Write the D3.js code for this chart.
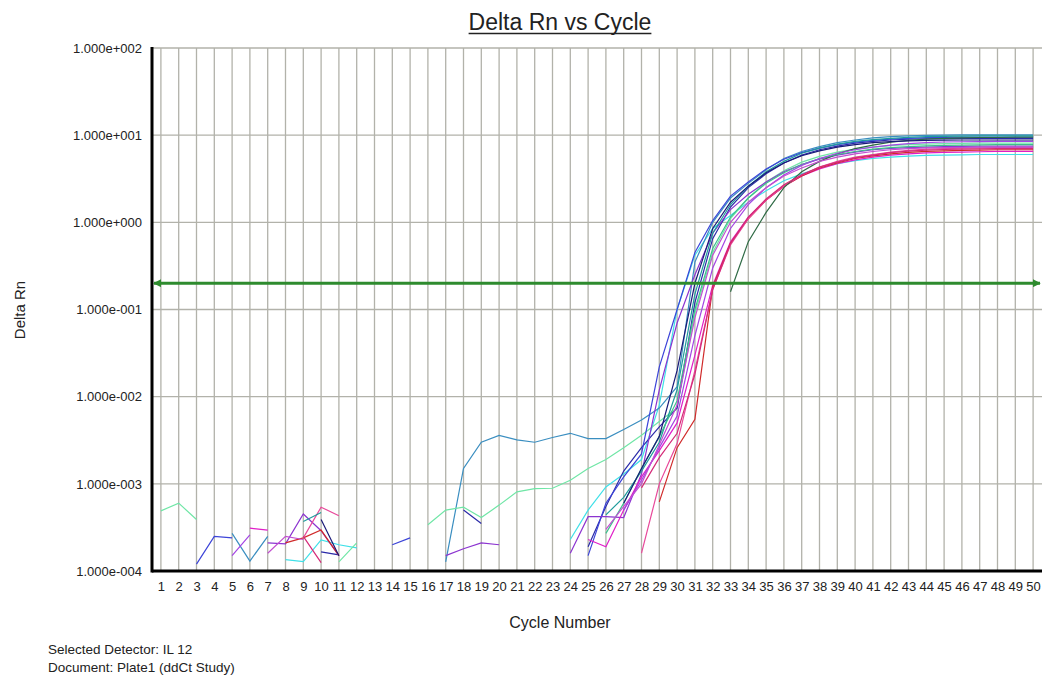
<!DOCTYPE html>
<html lang="en">
<head>
<meta charset="UTF-8">
<title>Delta Rn vs Cycle</title>
<script src="https://d3js.org/d3.v7.min.js"></script>
<style>
  body { margin: 0; background: #fff; }
  text { font-family: Arial, "Liberation Sans", sans-serif; fill: #222; }
</style>
</head>
<body>
<svg width="1042" height="675"></svg>
<script>
// cycle numbers and log-axis ticks
var cycles = d3.range(1, 51);
var yTicks = [1e-4, 1e-3, 1e-2, 1e-1, 1e0, 1e1, 1e2];
var threshold = 0.2;

// delta Rn per well, cycles 1..50 (null = not plotted)
var wellCyan = [
  null, null, null, null, null, null, null, 1.35e-4, 1.28e-4, 2.27e-4,
  2.0e-4, 1.84e-4, null, null, null, null, null, null, null, null,
  null, null, null, 2.3e-4, 5.0e-4, 9.2e-4, 1.3e-3, 1.9e-3, 8.0e-3, 0.1,
  0.42, 0.85, 1.2, 1.7, 2.3, 3.0, 3.6, 4.2, 4.7, 5.1,
  5.4, 5.6, 5.75, 5.85, 5.9, 5.95, 6.0, 6.0, 6.0, 6.0];
var wellSteel = [
  null, null, null, null, 2.7e-4, 1.3e-4, 2.5e-4, null, null, null,
  null, null, null, null, null, null, 1.27e-4, 1.5e-3, 3.0e-3, 3.6e-3,
  3.2e-3, 3.0e-3, 3.4e-3, 3.8e-3, 3.3e-3, 3.3e-3, 4.2e-3, 5.4e-3, 7.4e-3, 1.3e-2,
  0.35, 1.0, 1.9, 2.8, 4.0, 5.4, 6.5, 7.4, 8.2, 8.8,
  9.3, 9.6, 9.8, 9.95, 10.0, 10.1, 10.1, 10.1, 10.1, 10.1];
var wellLightGreen = [
  4.9e-4, 6.0e-4, 3.9e-4, null, null, null, null, null, null, null,
  1.27e-4, 2.1e-4, null, null, null, 3.4e-4, 5.0e-4, 5.4e-4, 4.1e-4, 5.7e-4,
  8.1e-4, 8.8e-4, 8.9e-4, 1.1e-3, 1.5e-3, 1.9e-3, 2.6e-3, 3.6e-3, 5.2e-3, 7.4e-3,
  0.09, 0.45, 1.1, 1.9, 2.9, 3.9, 4.9, 5.7, 6.4, 6.9,
  7.3, 7.6, 7.8, 7.9, 8.0, 8.05, 8.1, 8.1, 8.1, 8.1];
var wellDarkBlue = [
  null, null, null, null, null, null, null, null, null, 1.66e-4,
  1.53e-4, null, null, null, null, null, null, 5.0e-4, 3.5e-4, null,
  null, null, null, null, 1.9e-4, 5.5e-4, 1.4e-3, 2.6e-3, 4.5e-3, 7.4e-3,
  0.12, 0.65, 1.5, 2.5, 3.6, 4.8, 5.9, 6.8, 7.5, 8.1,
  8.5, 8.8, 9.0, 9.1, 9.15, 9.2, 9.2, 9.2, 9.2, 9.2];
var wellBlue = [
  null, null, 1.2e-4, 2.5e-4, 2.4e-4, null, null, null, null, null,
  null, null, null, 2.0e-4, 2.4e-4, null, null, null, null, null,
  null, null, null, null, 1.5e-4, 6.0e-4, 1.2e-3, 2.2e-3, 2.2e-2, 0.1,
  0.45, 1.05, 2.0, 2.9, 4.1, 5.3, 6.3, 7.1, 7.8, 8.3,
  8.7, 9.0, 9.2, 9.35, 9.4, 9.5, 9.5, 9.5, 9.5, 9.5];
var wellPurple = [
  null, null, null, null, null, null, 2.1e-4, 2.05e-4, 4.5e-4, 2.9e-4,
  1.5e-4, null, null, null, null, null, 1.5e-4, 1.8e-4, 2.1e-4, 2.0e-4,
  null, null, null, 1.6e-4, 4.2e-4, 4.2e-4, 4.1e-4, 1.3e-3, 1.2e-2, 7.0e-2,
  0.25, 0.75, 1.4, 2.1, 2.9, 3.8, 4.6, 5.3, 5.9, 6.4,
  6.8, 7.05, 7.2, 7.3, 7.4, 7.45, 7.5, 7.5, 7.5, 7.5];
var wellMagenta = [
  null, null, null, null, null, 3.1e-4, 2.95e-4, null, null, null,
  null, null, null, null, null, null, null, null, null, null,
  null, null, null, null, 2.3e-4, 1.9e-4, 5.0e-4, 1.2e-3, 2.4e-3, 5.0e-3,
  0.03, 0.19, 0.6, 1.15, 1.8, 2.6, 3.4, 4.1, 4.7, 5.2,
  5.6, 5.9, 6.1, 6.25, 6.35, 6.4, 6.45, 6.5, 6.5, 6.5];
var wellRed = [
  null, null, null, null, null, null, null, 2.1e-4, 2.4e-4, 2.95e-4,
  1.5e-4, null, null, null, null, null, null, null, null, null,
  null, null, null, null, null, null, null, null, 6.2e-4, 2.6e-3,
  5.5e-3, 0.18, 0.58, 1.1, 1.8, 2.6, 3.4, 4.2, 4.8, 5.4,
  5.8, 6.1, 6.35, 6.5, 6.6, 6.7, 6.75, 6.8, 6.8, 6.8];
var wellPink = [
  null, null, null, null, null, null, null, null, 2.4e-4, 5.4e-4,
  4.3e-4, null, null, null, null, null, null, null, null, null,
  null, null, null, null, null, null, null, 1.6e-4, 1.0e-3, 2.9e-3,
  0.02, 0.17, 0.55, 1.1, 1.8, 2.6, 3.5, 4.3, 5.0, 5.6,
  6.0, 6.4, 6.7, 6.9, 7.0, 7.1, 7.15, 7.2, 7.2, 7.2];
var wellDarkGreen = [
  null, null, null, null, null, null, null, null, null, null,
  null, null, null, null, null, null, null, null, null, null,
  null, null, null, null, null, null, null, null, null, null,
  null, null, 0.16, 0.6, 1.3, 2.5, 3.8, 5.0, 6.1, 7.0,
  7.7, 8.3, 8.7, 9.0, 9.2, 9.3, 9.4, 9.4, 9.5, 9.5];
var wellTeal = [
  null, null, null, null, null, null, null, null, 3.7e-4, 4.7e-4,
  null, null, null, null, null, null, null, null, null, null,
  null, null, null, null, null, 4.4e-4, 7.0e-4, 1.4e-3, 3.0e-3, 1.2e-2,
  0.15, 0.75, 1.6, 2.6, 3.8, 5.0, 6.2, 7.1, 7.9, 8.5,
  8.9, 9.2, 9.45, 9.6, 9.7, 9.75, 9.8, 9.8, 9.8, 9.8];
var wellSeaGreen = [
  null, null, null, null, null, null, null, null, null, null,
  null, null, null, null, null, null, null, null, null, null,
  null, null, null, null, null, 2.7e-4, 6.0e-4, 1.5e-3, 3.5e-3, 9.0e-3,
  0.1, 0.5, 1.15, 1.9, 2.8, 3.7, 4.6, 5.4, 6.0, 6.5,
  6.9, 7.2, 7.4, 7.55, 7.65, 7.7, 7.75, 7.8, 7.8, 7.8];
var wellViolet = [
  null, null, null, null, 1.5e-4, 2.6e-4, null, null, null, null,
  null, null, null, null, null, null, null, null, null, null,
  null, null, null, null, null, null, 5.0e-4, 1.1e-3, 2.6e-3, 6.0e-3,
  0.05, 0.3, 0.85, 1.6, 2.5, 3.5, 4.5, 5.4, 6.2, 6.8,
  7.3, 7.7, 8.0, 8.2, 8.35, 8.4, 8.45, 8.5, 8.5, 8.5];
var wellCrimson = [
  null, null, null, null, null, null, null, null, 2.5e-4, 1.25e-4,
  null, null, null, null, null, null, null, null, null, null,
  null, null, null, null, null, null, null, 9.0e-4, 2.0e-3, 3.8e-3,
  0.018, 0.17, 0.57, 1.15, 1.85, 2.7, 3.5, 4.3, 4.9, 5.5,
  5.9, 6.3, 6.55, 6.75, 6.85, 6.9, 6.95, 7.0, 7.0, 7.0];
var wellNavy = [
  null, null, null, null, null, null, null, null, null, 3.9e-4,
  1.5e-4, null, null, null, null, null, null, null, null, null,
  null, null, null, null, null, null, 6.0e-4, 1.5e-3, 3.5e-3, 2.0e-2,
  0.2, 0.85, 1.7, 2.6, 3.7, 4.8, 5.8, 6.6, 7.3, 7.8,
  8.2, 8.45, 8.6, 8.7, 8.75, 8.8, 8.8, 8.8, 8.8, 8.8];
var wellOrchid = [
  null, null, null, null, null, null, 1.6e-4, 2.5e-4, 2.3e-4, null,
  null, null, null, null, null, null, null, null, null, null,
  null, null, null, null, null, 3.0e-4, 5.5e-4, 1.0e-3, 2.8e-3, 8.0e-3,
  0.08, 0.42, 1.0, 1.7, 2.5, 3.4, 4.2, 5.0, 5.6, 6.1,
  6.5, 6.8, 7.0, 7.15, 7.2, 7.25, 7.3, 7.3, 7.3, 7.3];

var wells = [wellCyan, wellSteel, wellLightGreen, wellDarkBlue, wellBlue, wellPurple,
  wellMagenta, wellRed, wellPink, wellDarkGreen, wellTeal, wellSeaGreen,
  wellViolet, wellCrimson, wellNavy, wellOrchid];
var wellColors = ["#3fe0e8", "#3a8ec0", "#6fe6a6", "#2a2aa8", "#3c44d8", "#8c34d0",
  "#e01ec8", "#d02a2a", "#e8489a", "#2f6b45", "#1f9c9c", "#3cc08c",
  "#a444e4", "#d42a78", "#1a1a78", "#c24ed0"];

var svg = d3.select("svg");
var plotLeft = 152, plotRight = 1042, plotTop = 48, plotBottom = 571;

var x = d3.scaleLinear().domain([0.5, 50.5]).range([plotLeft, plotRight]);
var y = d3.scaleLog().domain([1e-4, 1e2]).range([plotBottom, plotTop]);

var defs = svg.append("defs");
defs.append("clipPath").attr("id", "plot")
  .append("rect")
  .attr("x", plotLeft).attr("y", plotTop)
  .attr("width", plotRight - plotLeft).attr("height", plotBottom - plotTop);

// arrow head for threshold line
defs.append("marker")
  .attr("id", "arrow")
  .attr("viewBox", "0 0 10 10")
  .attr("refX", 9).attr("refY", 5)
  .attr("markerWidth", 2.6).attr("markerHeight", 2.6)
  .attr("orient", "auto-start-reverse")
  .append("path")
  .attr("d", "M0,0 L10,5 L0,10 z")
  .attr("fill", "#2e8b2e");

// grid
var grid = svg.append("g").attr("stroke", "#b2b2aa").attr("stroke-width", 1.3);
grid.selectAll(".vg").data(cycles).enter().append("line")
  .attr("x1", function(d) { return x(d); })
  .attr("x2", function(d) { return x(d); })
  .attr("y1", plotTop).attr("y2", plotBottom);
grid.selectAll(".hg").data(yTicks).enter().append("line")
  .attr("x1", plotLeft).attr("x2", plotRight)
  .attr("y1", function(d) { return y(d); })
  .attr("y2", function(d) { return y(d); });

// amplification curves
var line = d3.line()
  .defined(function(d) { return d != null; })
  .x(function(d, i) { return x(cycles[i]); })
  .y(function(d) { return y(d); });

svg.append("g").attr("clip-path", "url(#plot)")
  .selectAll("path").data(wells).enter().append("path")
  .attr("d", line)
  .attr("fill", "none")
  .attr("stroke", function(d, i) { return wellColors[i]; })
  .attr("stroke-width", 1.2);

// threshold
svg.append("line")
  .attr("x1", plotLeft + 2).attr("x2", plotRight - 2)
  .attr("y1", y(threshold)).attr("y2", y(threshold))
  .attr("stroke", "#2e8b2e")
  .attr("stroke-width", 3)
  .attr("marker-start", "url(#arrow)")
  .attr("marker-end", "url(#arrow)");

// axis lines
svg.append("line").attr("x1", plotLeft).attr("x2", plotLeft).attr("y1", plotTop - 1).attr("y2", plotBottom + 1.5)
  .attr("stroke", "#000").attr("stroke-width", 3);
svg.append("line").attr("x1", plotLeft).attr("x2", plotRight).attr("y1", plotBottom).attr("y2", plotBottom)
  .attr("stroke", "#000").attr("stroke-width", 3);

function sci(d) {
  var e = Math.round(Math.log10(d));
  var m = d / Math.pow(10, e);
  return m.toFixed(3) + "e" + (e < 0 ? "-" : "+") + String(Math.abs(e)).padStart(3, "0");
}

var yAxis = svg.append("g")
  .attr("transform", "translate(" + plotLeft + ",0)")
  .call(d3.axisLeft(y).tickValues(yTicks).tickFormat(sci).tickSize(0).tickPadding(10));
var xAxis = svg.append("g")
  .attr("transform", "translate(0," + plotBottom + ")")
  .call(d3.axisBottom(x).tickValues(cycles).tickFormat(d3.format("d")).tickSize(0).tickPadding(11));
[yAxis, xAxis].forEach(function(a) {
  a.select(".domain").remove();
  a.attr("font-family", null).attr("font-size", null);
  a.selectAll("text").style("font-size", "13px").attr("fill", "#2a2a2a");
});

// titles
var title = svg.append("text")
  .attr("x", 560).attr("y", 30)
  .attr("text-anchor", "middle")
  .style("font-size", "23px")
  .text("Delta Rn vs Cycle");
var tw = title.node().getComputedTextLength();
svg.append("line")
  .attr("x1", 560 - tw / 2).attr("x2", 560 + tw / 2)
  .attr("y1", 33.5).attr("y2", 33.5)
  .attr("stroke", "#222").attr("stroke-width", 1.3);

svg.append("text")
  .attr("transform", "translate(25,310) rotate(-90)")
  .attr("text-anchor", "middle")
  .style("font-size", "15px")
  .text("Delta Rn");

svg.append("text")
  .attr("x", 560).attr("y", 628)
  .attr("text-anchor", "middle")
  .style("font-size", "16px")
  .text("Cycle Number");

svg.append("text").attr("x", 48).attr("y", 654)
  .style("font-size", "13.5px").text("Selected Detector: IL 12");
svg.append("text").attr("x", 48).attr("y", 672)
  .style("font-size", "13.5px").text("Document: Plate1 (ddCt Study)");
</script>
</body>
</html>
